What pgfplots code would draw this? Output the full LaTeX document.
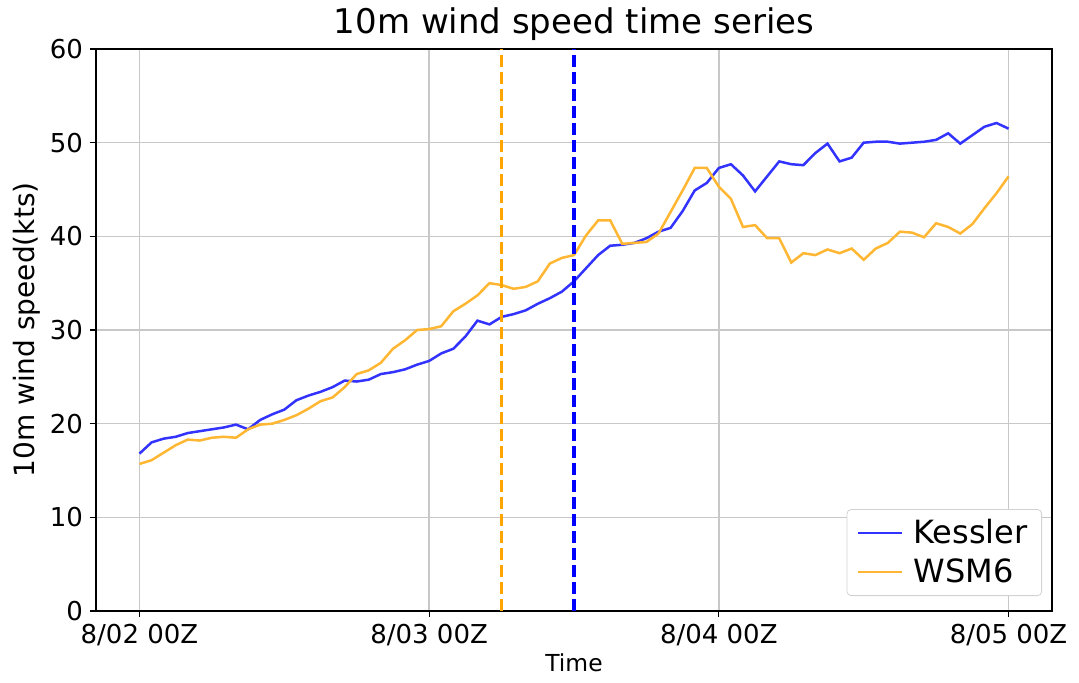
\documentclass[border=0pt]{standalone}
\usepackage{pgfplots}
\pgfplotsset{compat=1.18}
\usepackage{fontspec}
\setmainfont{DejaVu Sans}
\definecolor{kline}{RGB}{51,51,255}
\definecolor{wline}{RGB}{255,183,51}
\definecolor{wdash}{RGB}{255,165,0}
\definecolor{gridc}{RGB}{200,200,200}
\begin{document}
\begin{tikzpicture}
\useasboundingbox (-48pt,-35.5pt) rectangle (491.5pt,305.5pt);
\begin{axis}[
  scale only axis,
  width=478pt, height=281pt,
  xmin=-3.6, xmax=75.6, ymin=0, ymax=60,
  xtick={0,24,48,72},
  xticklabels={8/02 00Z,8/03 00Z,8/04 00Z,8/05 00Z},
  ytick={0,10,20,30,40,50,60},
  /pgf/number format/assume math mode=true,
  tick label style={font=\fontsize{13}{15}\selectfont},
  tick align=outside, major tick length=3pt,
  tick style={black, line width=0.6pt},
  xtick pos=bottom, ytick pos=left,
  axis line style={line width=0.6pt, black},
  grid=major,
  major grid style={gridc, line width=0.8pt},
  title={10m wind speed time series},
  title style={font=\fontsize{17}{20}\selectfont, yshift=-5.5pt},
  xlabel={Time},
  xlabel style={font=\fontsize{11.7}{14}\selectfont, yshift=3pt},
  ylabel={10m wind speed(kts)},
  ylabel style={font=\fontsize{14}{16}\selectfont, yshift=-2pt},
  legend style={at={(1,0)}, anchor=south east, xshift=-5pt, yshift=7.5pt,
    font=\fontsize{16}{18}\selectfont, draw=gray!35, rounded corners=2pt,
    inner xsep=5pt, inner ysep=3pt, row sep=2pt, column sep=3pt},
  legend cell align=left,
  legend image code/.code={\draw[#1, line width=1.2pt] (0pt,0pt) -- (22pt,0pt);},
]
\addplot[kline, line width=1.25pt] coordinates {
(0,16.8)(1,18.0)(2,18.4)(3,18.6)(4,19.0)(5,19.2)(6,19.4)(7,19.6)(8,19.9)(9,19.4)
(10,20.4)(11,21.0)(12,21.5)(13,22.5)(14,23.0)(15,23.4)(16,23.9)(17,24.6)(18,24.5)(19,24.7)
(20,25.3)(21,25.5)(22,25.8)(23,26.3)(24,26.7)(25,27.5)(26,28.0)(27,29.3)(28,31.0)(29,30.6)
(30,31.4)(31,31.7)(32,32.1)(33,32.8)(34,33.4)(35,34.1)(36,35.2)(37,36.6)(38,38.0)(39,39.0)
(40,39.1)(41,39.3)(42,39.8)(43,40.5)(44,40.9)(45,42.7)(46,44.9)(47,45.7)(48,47.3)(49,47.7)
(50,46.5)(51,44.8)(52,46.4)(53,48.0)(54,47.7)(55,47.6)(56,48.9)(57,49.9)(58,48.0)(59,48.4)
(60,50.0)(61,50.1)(62,50.1)(63,49.9)(64,50.0)(65,50.1)(66,50.3)(67,51.0)(68,49.9)(69,50.8)
(70,51.7)(71,52.1)(72,51.5)
};
\addlegendentry{Kessler}
\addplot[wline, line width=1.25pt] coordinates {
(0,15.7)(1,16.1)(2,16.9)(3,17.7)(4,18.3)(5,18.2)(6,18.5)(7,18.6)(8,18.5)(9,19.4)
(10,19.9)(11,20.0)(12,20.4)(13,20.9)(14,21.6)(15,22.4)(16,22.8)(17,23.9)(18,25.3)(19,25.7)
(20,26.5)(21,28.0)(22,28.9)(23,30.0)(24,30.1)(25,30.4)(26,32.0)(27,32.8)(28,33.7)(29,35.0)
(30,34.8)(31,34.4)(32,34.6)(33,35.2)(34,37.1)(35,37.7)(36,38.0)(37,40.1)(38,41.7)(39,41.7)
(40,39.2)(41,39.3)(42,39.4)(43,40.3)(44,42.6)(45,44.9)(46,47.3)(47,47.3)(48,45.3)(49,44.0)
(50,41.0)(51,41.2)(52,39.8)(53,39.8)(54,37.2)(55,38.2)(56,38.0)(57,38.6)(58,38.2)(59,38.7)
(60,37.5)(61,38.7)(62,39.3)(63,40.5)(64,40.4)(65,39.9)(66,41.4)(67,41.0)(68,40.3)(69,41.3)
(70,43.0)(71,44.6)(72,46.4)
};
\addlegendentry{WSM6}
\addplot[wdash, line width=1.4pt, dash pattern=on 6pt off 2.5pt, forget plot] coordinates {(30,0)(30,60)};
\addplot[blue, line width=1.7pt, dash pattern=on 6pt off 2.5pt, forget plot] coordinates {(36,0)(36,60)};
\end{axis}
\end{tikzpicture}
\end{document}
